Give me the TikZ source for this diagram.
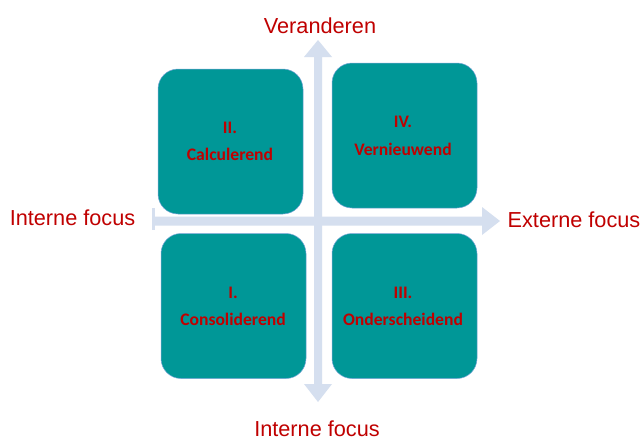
\documentclass[tikz,border=0pt]{standalone}
\usepackage{fontspec}
\setmainfont{Liberation Sans}
\newfontfamily\calib{Carlito}
\definecolor{axisblue}{RGB}{213,223,239}
\definecolor{teal1}{RGB}{0,151,151}
\definecolor{boxedge}{RGB}{120,165,215}
\definecolor{darkred}{RGB}{192,0,0}
\begin{document}
\begin{tikzpicture}[x=1pt,y=-1pt,
  qbox/.style={draw=boxedge, line width=0.5pt, fill=teal1, rounded corners=20pt,
    minimum width=145pt, minimum height=145pt, inner sep=0pt},
  qlabel/.style={anchor=base, text=darkred, font=\calib\bfseries\fontsize{17.6}{20}\selectfont, inner sep=0pt},
  axlabel/.style={anchor=base, text=darkred, font=\fontsize{21.7}{24}\selectfont, inner sep=0pt},
  axisfill/.style={fill=axisblue, draw=none}]
\useasboundingbox (0,0) rectangle (641,439);
\fill[white] (0,0) rectangle (641,439);
% axes
\fill[axisfill] (152,208) rectangle (155,230);
\fill[axisfill] (155,216.5) -- (482,216.5) -- (482,207) -- (500,221) -- (482,235) -- (482,225.5) -- (155,225.5) -- cycle;
\fill[axisfill] (314,57) -- (304,57) -- (318,40) -- (332,57) -- (322,57) -- (322,384) -- (332,384) -- (318,402) -- (304,384) -- (314,384) -- cycle;
% boxes
\node[qbox] (q2) at (230.5,141.5) {};
\node[qbox] (q4) at (404.5,135.5) {};
\node[qbox] (q1) at (233.5,306) {};
\node[qbox] (q3) at (404.5,306) {};
% box texts
\node[qlabel] (t2a) at (230,133) {II.};
\node[qlabel] (t2b) at (230,160) {Calculerend};
\node[qlabel] (t4a) at (403,127) {IV.};
\node[qlabel] (t4b) at (403,155) {Vernieuwend};
\node[qlabel] (t1a) at (233,298) {I.};
\node[qlabel] (t1b) at (233,325) {Consoliderend};
\node[qlabel] (t3a) at (403,298) {III.};
\node[qlabel] (t3b) at (403,325) {Onderscheidend};
% axis labels
\node[axlabel] (top) at (320,33) {Veranderen};
\node[axlabel] (left) at (72.5,225) {Interne focus};
\node[axlabel] (right) at (574,227) {Externe focus};
\node[axlabel] (bottom) at (317,436) {Interne focus};
\end{tikzpicture}
\end{document}
